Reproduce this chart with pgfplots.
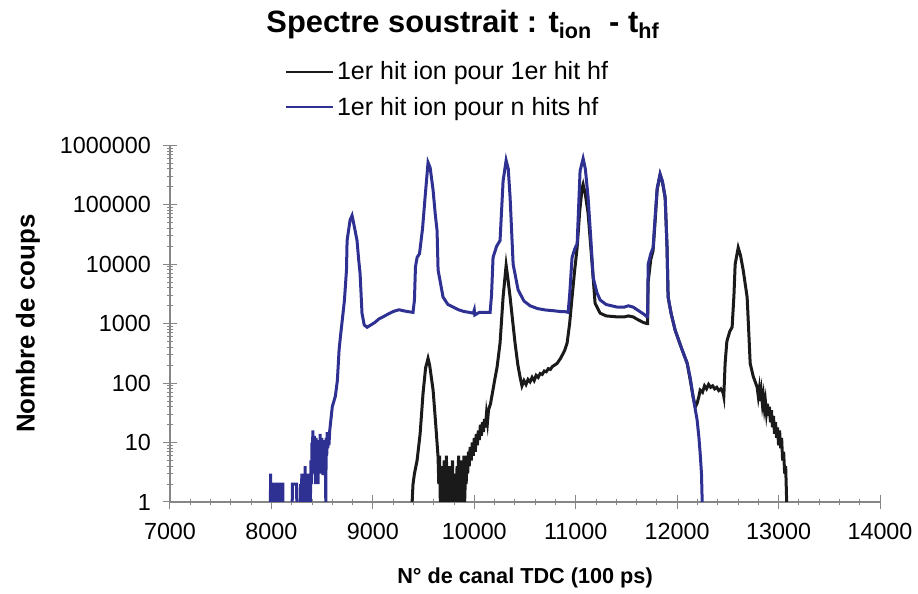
\documentclass[border=0pt]{standalone}
\usepackage{fontspec}
\setmainfont{Liberation Sans}
\usepackage{pgfplots}
\pgfplotsset{compat=1.18}
\definecolor{serblue}{RGB}{46,49,146}
\definecolor{serblack}{RGB}{26,26,26}
\definecolor{axgray}{RGB}{134,134,134}

\begin{document}
\begin{tikzpicture}
% page frame: 1 px of the reference = 0.6pt
\path (-102pt,-54pt) rectangle (448.8pt,301.2pt);
\begin{axis}[
  at={(0,0)}, anchor=south west, scale only axis,
  width=426pt, height=214pt,
  ymode=log,
  xmin=7000, xmax=14000, ymin=1, ymax=1000000,
  axis x line=bottom, axis y line=left,
  axis line style={-, axgray, line width=0.8pt},
  every tick/.style={axgray, line width=0.6pt},
  tick align=center,
  major tick length=8pt, minor tick length=4pt,
  xtick={7000,8000,...,14000}, minor x tick num=4,
  scaled x ticks=false,
  ytick={1,10,100,1000,10000,100000,1000000},
  yticklabels={1,10,100,1000,10000,100000,1000000},
  /pgf/number format/set thousands separator={},
  /pgf/number format/assume math mode=true,
  ticklabel style={font=\fontsize{14}{16}\selectfont},
  xticklabel style={yshift=-5pt},
  yticklabel style={xshift=-4pt},
  xlabel={N° de canal TDC (100 ps)},
  ylabel={Nombre de coups},
  xlabel style={font=\bfseries\fontsize{13}{15}\selectfont, at={(axis description cs:0.5,-0.213)}, anchor=center},
  ylabel style={font=\bfseries\fontsize{15.5}{18}\selectfont, at={(axis description cs:-0.2,0.5)}, anchor=center},
  unbounded coords=jump,
  legend style={at={(axis description cs:0.155,1.255)}, anchor=north west,
    draw=none, fill=none, font=\fontsize{15}{17}\selectfont, row sep=5pt},
  legend cell align=left,
  legend image code/.code={\draw[#1, line width=1pt] (0pt,0pt) -- (28pt,0pt);},
]

\addplot[serblack, line width=1.8pt] coordinates {
(9387,1)(9396,2)(9410,3)(9436,5)(9466,14)(9495,68)(9520,180)(9544,260)(9560,200)(9594,76)(9620,20)(9643,5.7)
(9650,2)(9658,6)(9665,1)(9672,4)(9680,1)(9688,3)(9695,1)(9703,5)(9710,1)(9718,2)(9725,6)(9733,1)(9740,3)(9748,1)
(9755,4)(9763,1)(9770,2)(9778,1)(9785,5)(9793,1)(9800,3)(9808,1)(9815,2)(9823,1)(9830,4)(9838,1)(9845,6)(9853,1)
(9860,3)(9868,1)(9875,5)(9883,1)(9890,2)(9898,6)(9905,1)(9913,3)(9920,2)(9928,6)(9935,3)(9943,7)(9950,4)(9959,8.4)
(9970,5)(9980,10)(9990,6)(10000,12)(10010,7)(10020,14)(10030,9)(10040,16)(10050,11)(10060,20)(10070,13)(10080,22)
(10090,15)(10100,25)(10110,18)(10120,30)(10130,22)(10140,35)(10150,40)(10160,45)(10180,70)(10200,110)(10225,187)
(10254,470)(10284,2800)(10314,9600)(10330,6000)(10353,2800)(10402,470)(10430,200)(10452,125)(10470,90)(10490,110)
(10510,95)(10530,115)(10550,105)(10570,125)(10590,110)(10610,135)(10630,125)(10650,145)(10670,140)(10690,160)
(10710,155)(10730,175)(10750,170)(10770,190)(10790,200)(10817,215)(10850,260)(10890,350)(10915,470)(10940,1000)
(10964,2800)(10990,8000)(11014,19000)(11040,80000)(11063,190000)(11073,220000)(11095,150000)(11122,72000)
(11162,10000)(11191,2200)(11241,1500)(11300,1350)(11408,1300)(11480,1300)(11520,1350)(11566,1300)(11620,1150)
(11665,1050)(11704,1000)(11709,1000)(11714,5000)(11740,12000)(11763,17000)(11785,60000)(11803,180000)(11832,320000)
(11855,240000)(11882,130000)(11900,20000)(11911,2800)(11940,1500)(11980,780)(12040,400)(12099,215)(12130,110)
(12158,58)(12180,40)(12197,46)(12215,60)(12227,76)(12250,70)(12270,90)(12290,80)(12310,95)(12330,85)(12350,90)
(12370,80)(12390,85)(12410,75)(12430,80)(12454,68)(12460,60)(12473,215)(12490,500)(12503,600)(12520,750)(12542,870)
(12560,3000)(12572,10000)(12602,19000)(12625,14000)(12651,8000)(12690,2800)(12705,800)(12720,215)(12750,130)
(12789,85)(12800,60)(12810,80)(12820,50)(12830,70)(12840,45)(12850,60)(12860,38)(12870,50)(12880,32)(12890,45)
(12900,28)(12910,40)(12920,22)(12930,35)(12940,18)(12950,28)(12960,14)(12970,22)(12980,12)(12990,18)(13000,9)
(13010,16)(13020,8)(13030,12)(13040,5)(13050,7)(13060,3)(13070,4)(13080,1)
};
\addlegendentry{1er hit ion pour 1er hit hf}

\addplot[serblue, line width=1.8pt] coordinates {
(7990,1)(7992,3)(7996,1)(8010,1)(8012,2)(8035,2)(8037,1)(8040,nan)
(8060,1)(8062,2)(8072,2)(8074,1)(8080,nan)
(8100,1)(8102,2)(8112,2)(8114,1)(8150,nan)
(8205,1)(8207,2)(8248,2)(8250,1)(8270,nan)
(8285,1)(8287,2)(8294,1)(8300,3)(8304,1)(8310,3)(8315,1)(8322,2)(8328,1)(8332,4)(8338,1)(8342,2)(8348,1)(8352,3)
(8358,1)(8364,3)(8370,1)(8378,2)(8384,1)(8390,5)(8395,2)(8400,10)(8404,3)(8408,16)(8412,4)(8416,8)(8420,3)(8424,13)
(8428,4)(8432,5)(8436,2)(8440,12)(8444,4)(8448,10)(8452,3)(8456,4)(8460,2)(8464,11)(8468,4)(8472,8)(8476,3)(8480,14)
(8484,5)(8488,6)(8492,3)(8496,12)(8500,4)(8504,9)(8508,3)(8512,3)(8516,5)(8520,11)(8524,4)(8528,10)(8532,4)(8536,1)
(8540,12)(8545,6)(8550,15)(8555,8)(8560,13)(8567,9)(8575,16)(8600,40)(8630,60)(8650,110)(8667,360)
(8680,600)(8706,1500)(8720,2500)(8740,8000)(8746,25000)(8775,55000)(8795,66000)(8815,45000)(8844,25000)(8860,12000)
(8874,7000)(8893,1500)(8915,950)(8943,870)(8980,950)(9020,1050)(9060,1200)(9100,1300)(9150,1450)(9200,1600)
(9250,1700)(9268,1700)(9300,1650)(9340,1600)(9396,1550)(9410,2500)(9420,9000)(9436,13000)(9460,15000)(9490,40000)
(9515,134000)(9544,515000)(9565,420000)(9594,175000)(9615,70000)(9633,37000)(9643,8000)(9692,2800)(9740,2100)
(9791,1900)(9850,1700)(9900,1600)(9950,1550)(9990,1500)(10000,1700)(10005,1400)(10050,1550)(10100,1550)(10156,1550)
(10170,3000)(10185,13000)(10220,20000)(10254,25000)(10284,250000)(10314,560000)(10335,400000)(10353,134000)
(10383,10000)(10432,3700)(10490,2400)(10550,2000)(10620,1800)(10700,1700)(10780,1650)(10850,1600)(10890,1600)
(10925,1550)(10940,3000)(10964,13000)(10990,18000)(11014,22000)(11043,370000)(11073,600000)(11095,400000)
(11122,134000)(11150,25000)(11172,6000)(11210,3300)(11241,2500)(11300,2100)(11408,1900)(11480,1900)(11520,2000)
(11566,1900)(11620,1650)(11670,1450)(11704,1300)(11709,1300)(11714,10000)(11740,15000)(11763,19000)(11785,70000)
(11803,190000)(11832,330000)(11855,250000)(11882,134000)(11900,20000)(11911,2800)(11940,1500)(11980,780)
(12040,400)(12099,215)(12130,120)(12158,58)(12180,35)(12197,24)(12215,12)(12227,6.6)(12240,3)(12247,1)
};
\addlegendentry{1er hit ion pour n hits hf}
\end{axis}
\node[font=\bfseries\fontsize{18.5}{21}\selectfont] at (175.8pt,286.2pt)
  {Spectre soustrait : t\textsubscript{ion}\ \ - t\textsubscript{hf}};
\end{tikzpicture}
\end{document}
